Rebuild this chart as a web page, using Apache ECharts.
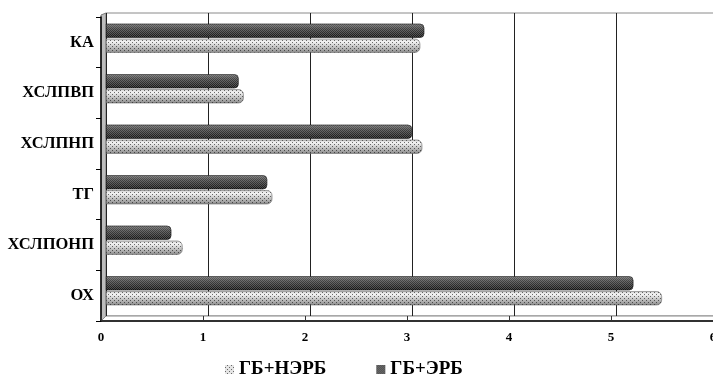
<!DOCTYPE html>
<html>
<head>
<meta charset="utf-8">
<script src="https://cdn.jsdelivr.net/npm/echarts@6/dist/echarts.min.js"></script>
<style>
  html, body { margin: 0; padding: 0; background: #fff; }
  #chart { width: 713px; height: 383px; }
</style>
</head>
<body>
<div id="chart"></div>
<script>
// Lipid profile indicators, bottom to top
const categories = ['ОХ', 'ХСЛПОНП', 'ТГ', 'ХСЛПНП', 'ХСЛПВП', 'КА'];
const seriesNames = ['ГБ+НЭРБ', 'ГБ+ЭРБ'];
const valuesNERB = [5.45, 0.75, 1.63, 3.10, 1.35, 3.08];
const valuesERB = [5.17, 0.64, 1.58, 3.00, 1.30, 3.12];
const xTicks = [0, 1, 2, 3, 4, 5, 6];

const FONT = '"Liberation Serif", "Times New Roman", serif';

// back wall (bars + gridlines) and front edge (axes) of the pseudo-3D box
const W = 713, H = 383;
const back = { left: 106, top: 13, right: W - (106 + 612), bottom: 67 };
const front = { left: 101, top: 17, right: W - (101 + 612), bottom: 62 };

const chart = echarts.init(document.getElementById('chart'), null, { renderer: 'canvas' });

const lightFill = {
  type: 'linear', x: 0, y: 0, x2: 0, y2: 1,
  colorStops: [
    { offset: 0, color: '#cfcfcf' },
    { offset: 0.22, color: '#f4f4f4' },
    { offset: 0.55, color: '#c6c6c6' },
    { offset: 1, color: '#8a8a8a' }
  ]
};
const darkFill = {
  type: 'linear', x: 0, y: 0, x2: 0, y2: 1,
  colorStops: [
    { offset: 0, color: '#6a6a6a' },
    { offset: 0.35, color: '#424242' },
    { offset: 1, color: '#121212' }
  ]
};
const lightDecal = {
  symbol: 'rect', symbolSize: 1, color: 'rgba(0,0,0,0.55)',
  dashArrayX: [[1, 3], [0, 2, 1, 1]], dashArrayY: [1, 1]
};
const darkDecal = {
  symbol: 'rect', symbolSize: 1, color: 'rgba(255,255,255,0.22)',
  dashArrayX: [[1, 1], [0, 1, 1, 0]], dashArrayY: [1, 0]
};

const backBottomY = H - back.bottom;
const frontBottomY = H - front.bottom;
const frontTopY = front.top;

chart.setOption({
  animation: false,
  backgroundColor: '#fff',
  legend: {
    bottom: -1,
    left: 220,
    itemWidth: 9,
    itemHeight: 9,
    itemGap: 50,
    textStyle: { fontFamily: FONT, fontWeight: 'bold', fontSize: 19, color: '#000' },
    data: [
      { name: seriesNames[0], icon: 'rect', itemStyle: { color: '#e4e4e4', decal: lightDecal, borderWidth: 0 } },
      { name: seriesNames[1], icon: 'rect', itemStyle: { color: '#4a4a4a', decal: darkDecal, borderWidth: 0 } }
    ]
  },
  graphic: [
    // left wall
    {
      type: 'polygon', z: 0,
      shape: { points: [[front.left, frontTopY - 2], [back.left, back.top], [back.left, backBottomY], [front.left, frontBottomY]] },
      style: { fill: '#bdbdbd', stroke: '#7a7a7a', lineWidth: 1 }
    },
    // floor
    {
      type: 'polygon', z: 0,
      shape: { points: [[back.left, backBottomY], [W + 10, backBottomY], [W + 10, frontBottomY], [front.left, frontBottomY]] },
      style: { fill: '#ffffff', stroke: '#8a8a8a', lineWidth: 1 }
    }
  ],
  grid: [
    { left: back.left, top: back.top, right: back.right, bottom: back.bottom, outerBoundsMode: 'none',
      containLabel: false, show: true, borderColor: '#8a8a8a', borderWidth: 1, backgroundColor: 'transparent' },
    { left: front.left, top: front.top, right: front.right, bottom: front.bottom, outerBoundsMode: 'none',
      containLabel: false }
  ],
  xAxis: [
    { gridIndex: 0, type: 'value', min: 0, max: 6, interval: 1,
      axisLine: { show: false }, axisTick: { show: false }, axisLabel: { show: false },
      splitLine: { show: true, lineStyle: { color: '#222', width: 1 } } },
    { gridIndex: 1, type: 'value', min: xTicks[0], max: xTicks[xTicks.length - 1], interval: 1,
      axisLine: { show: true, lineStyle: { color: '#000', width: 1.5 } },
      axisTick: { show: true, inside: true, length: 5, lineStyle: { color: '#333' } },
      splitLine: { show: false },
      axisLabel: { fontFamily: FONT, fontWeight: 'bold', fontSize: 13, color: '#000', margin: 10 } }
  ],
  yAxis: [
    { gridIndex: 0, type: 'category', data: categories,
      axisLine: { show: false }, axisTick: { show: false }, axisLabel: { show: false } },
    { gridIndex: 1, type: 'category', data: categories,
      axisLine: { show: true, lineStyle: { color: '#000', width: 1.5 } },
      axisTick: { show: true, length: 5, lineStyle: { color: '#000' } },
      axisLabel: { fontFamily: FONT, fontWeight: 'bold', fontSize: 16.5, color: '#000', margin: 7 } }
  ],
  series: [
    { name: seriesNames[1], type: 'bar', xAxisIndex: 0, yAxisIndex: 0, data: valuesERB,
      barWidth: 14, barGap: '7%', z: 3,
      itemStyle: { color: darkFill, decal: darkDecal, borderRadius: [0, 4, 4, 0],
        borderColor: 'rgba(20,20,20,0.7)', borderWidth: 0.5 } },
    { name: seriesNames[0], type: 'bar', xAxisIndex: 0, yAxisIndex: 0, data: valuesNERB,
      barWidth: 14, barGap: '7%', z: 3,
      itemStyle: { color: lightFill, decal: lightDecal, borderRadius: [0, 5, 5, 0],
        borderColor: 'rgba(90,90,90,0.6)', borderWidth: 0.5 } }
  ]
});
</script>
</body>
</html>
